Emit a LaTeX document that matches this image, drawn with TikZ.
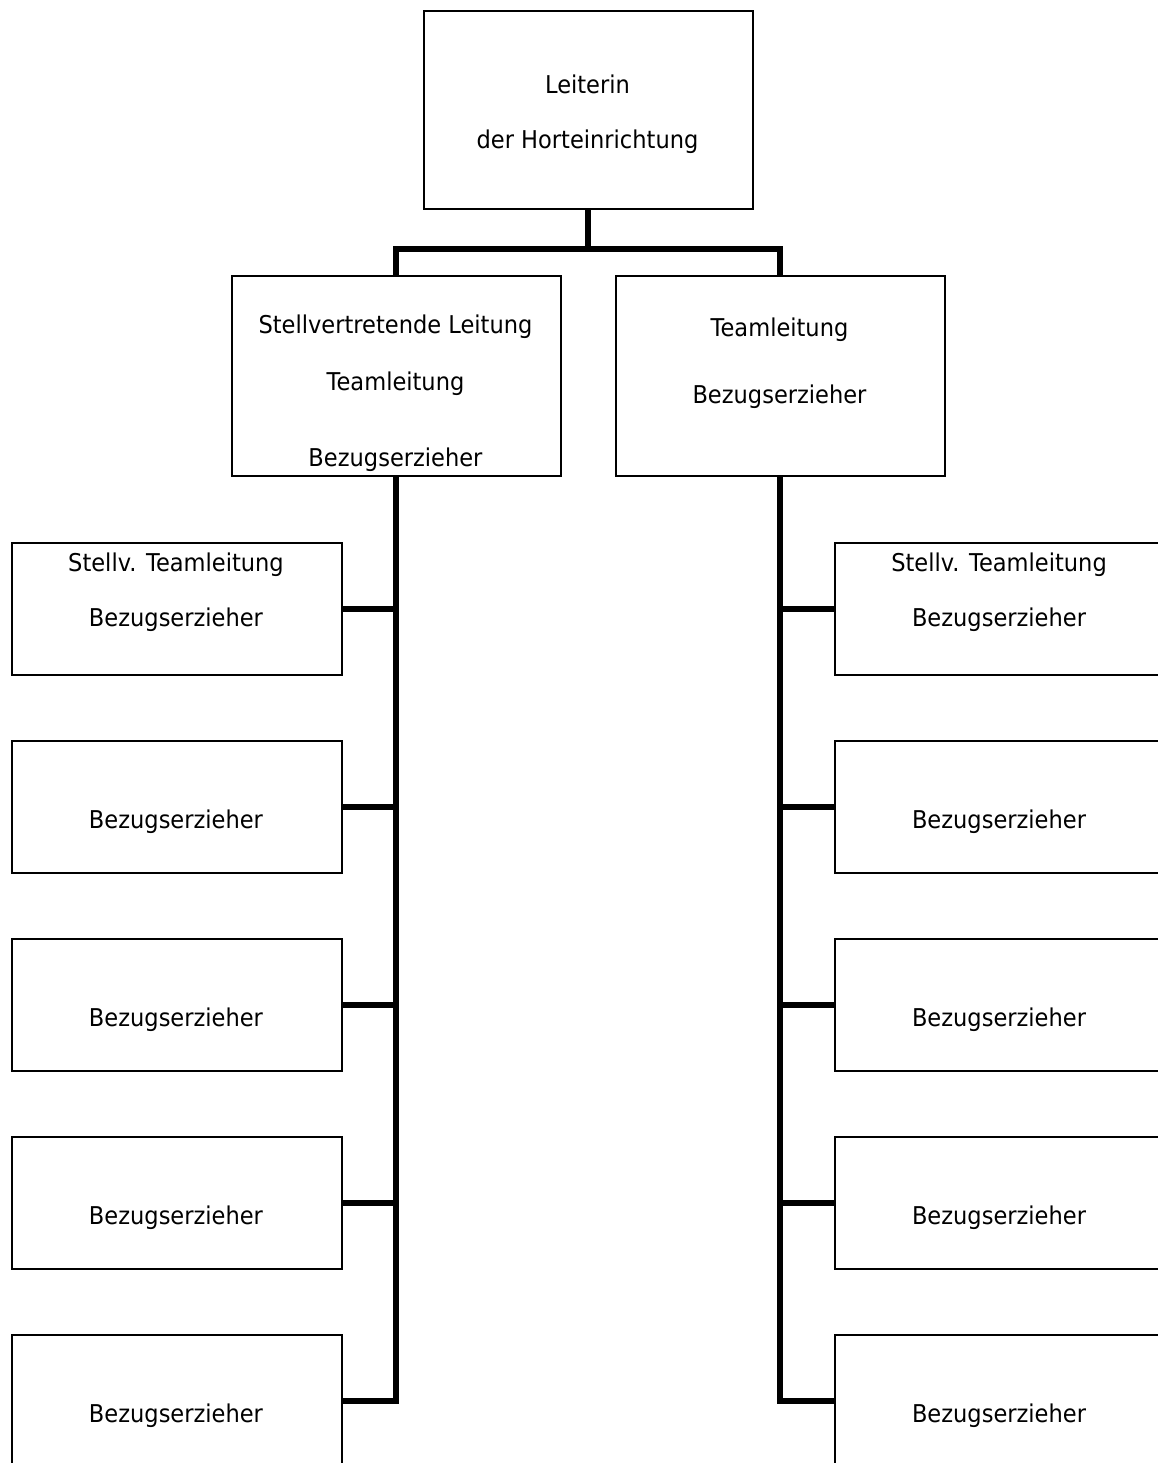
\documentclass[tikz,border=0pt]{standalone}
\usepackage{fontspec}
\setmainfont{DejaVu Sans}[FakeStretch=0.92]
\begin{document}
\begin{tikzpicture}[x=1pt,y=1pt,yscale=-1,
		box/.style={draw, line width=1.6pt, fill=white, inner sep=0pt, minimum width=330, minimum height=132, anchor=north west},
		txt/.style={anchor=base, inner sep=0pt, font=\fontsize{24.5}{29}\selectfont},
		conn/.style={line width=6pt}]
		\useasboundingbox (0,0) rectangle (1158,1463);
		
		%Shape: Rectangle top
		\node[box, minimum width=329, minimum height=198] (hort) at (423,10) {};
		%Shape: Rectangle middle
		\node[box, minimum width=329, minimum height=200] (stv) at (231,275) {};
		\node[box, minimum width=329, minimum height=200] (team) at (615,275) {};
		%Shape: Rectangle columns
		\foreach \i/\y in {1/542,2/740,3/938,4/1136,5/1334}{
			\node[box] (links\i) at (11,\y) {};
			\node[box] (rechts\i) at (834,\y) {};
		}
		
		%Straight Lines
		\path (hort.south) ++(0,39) coordinate (bus);
		\draw[conn] (hort.south) -- (bus);
		\draw[conn] (stv.north) |- (bus) -| (team.north);
		\draw[conn] (stv.south) |- (links5.east);
		\draw[conn] (team.south) |- (rechts5.west);
		\foreach \i in {1,...,4}{
			\draw[conn] (stv.south |- links\i.east) -- (links\i.east);
			\draw[conn] (team.south |- rechts\i.west) -- (rechts\i.west);
		}
		
		% Text Node
		\node[txt] (hortA) at (587.5,94) {Leiterin};
		\node[txt] (hortB) at (587.5,149) {der Horteinrichtung};
		% Text Node
		\node[txt] (stvA) at (395.5,333) {Stellvertretende Leitung};
		\node[txt] (stvB) at (395.5,390) {Teamleitung};
		\node[txt] (stvC) at (395.5,466) {Bezugserzieher};
		% Text Node
		\node[txt] (teamA) at (779.5,336) {Teamleitung};
		\node[txt] (teamB) at (779.5,403) {Bezugserzieher};
		% Text Node
		\node[txt] (linksA) at (176,571) {Stellv. Teamleitung};
		\node[txt] (linksB) at (176,626) {Bezugserzieher};
		\node[txt] (rechtsA) at (999,571) {Stellv. Teamleitung};
		\node[txt] (rechtsB) at (999,626) {Bezugserzieher};
		\foreach \i/\y in {2/828,3/1026,4/1224,5/1422}{
			\node[txt] (linksT\i) at (176,\y) {Bezugserzieher};
			\node[txt] (rechtsT\i) at (999,\y) {Bezugserzieher};
		}
		
	\end{tikzpicture}
\end{document}
